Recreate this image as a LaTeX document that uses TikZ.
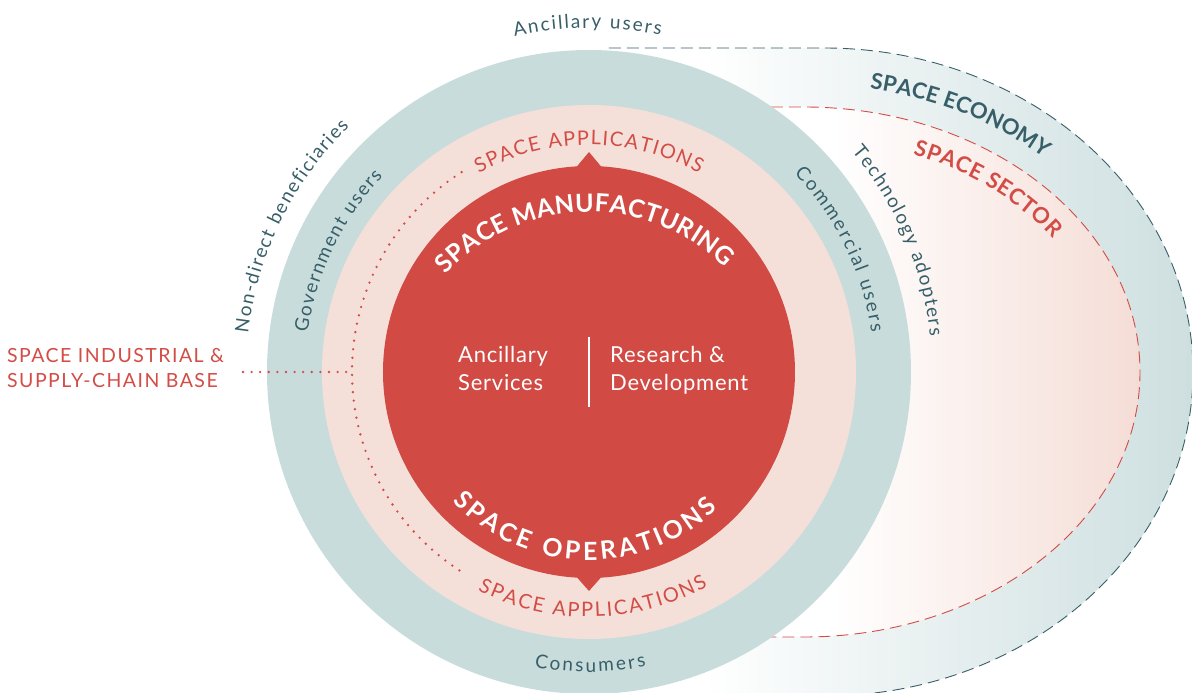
\documentclass[tikz,border=0pt]{standalone}
\usepackage{fontspec}
\setmainfont{Lato}
\usetikzlibrary{decorations.text}
\definecolor{tealring}{RGB}{201,220,220}
\definecolor{pinkring}{RGB}{245,224,217}
\definecolor{redc}{RGB}{209,74,68}
\definecolor{tealtxt}{RGB}{55,95,105}
\definecolor{redtxt}{RGB}{211,76,70}
\definecolor{econR}{RGB}{206,223,224}
\definecolor{sectR}{RGB}{245,221,214}
\pgfdeclarehorizontalshading{econshade}{100bp}{color(0bp)=(white); color(33bp)=(white); color(75bp)=(econR); color(100bp)=(econR)}
\pgfdeclarehorizontalshading{sectshade}{100bp}{color(0bp)=(white); color(46bp)=(white); color(75bp)=(sectR); color(100bp)=(sectR)}
\newcommand\fntTeal{\fontsize{19}{22}\selectfont}
\newcommand\fntApp{\fontsize{20}{24}\selectfont}
\newcommand\fntCore{\fontsize{25}{30}\selectfont\bfseries}
\newcommand\fntEco{\fontsize{22}{26}\selectfont\bfseries}
\begin{document}
\begin{tikzpicture}[x=1pt,y=1pt,
  curved/.style={decorate, decoration={text along path, text align={fit to path}, text color=#1}},
  dashline/.style={draw=#1, line width=0.9pt, dash pattern=on 12pt off 6pt},
  dotline/.style={draw=redtxt, line width=2.6pt, line cap=round, dash pattern=on 0pt off 8.6pt},
  centertext/.style={text=white, font=\fontsize{22}{28}\selectfont\addfontfeatures{LetterSpace=3.5}, align=left, inner sep=0pt, anchor=north west},
  sidelabel/.style={text=redtxt, font=\fontsize{19.5}{25}\selectfont\addfontfeatures{LetterSpace=7.5}, align=left, inner sep=0pt, anchor=north west}]
\useasboundingbox (-589,-321) rectangle (603,372);

% space economy and space sector areas
\shade[shading=econshade] (20,324) -- (235,324) arc[start angle=90,end angle=-90,x radius=369pt,y radius=324pt] -- (20,-324) -- cycle;
\shade[shading=sectshade] (20,265) -- (215,265) arc[start angle=90,end angle=-90,x radius=336pt,y radius=265pt] -- (20,-265) -- cycle;
\path[dashline=tealtxt] (20,324) -- (235,324) arc[start angle=90,end angle=-90,x radius=369pt,y radius=324pt] -- (20,-324);
\path[dashline=redtxt] (20,265) -- (215,265) arc[start angle=90,end angle=-90,x radius=336pt,y radius=265pt] -- (20,-265);

% rings
\fill[tealring] (0,0) circle[radius=322pt];
\fill[pinkring] (0,0) circle[radius=267pt];
\fill[redc] (0,0) circle[radius=206pt];
\fill[redc] (-15,202) -- (0,220) -- (15,202) -- cycle;
\fill[redc] (-15,-202) -- (0,-219) -- (15,-202) -- cycle;

% dotted link
\coordinate (dotL) at (-346,0);
\coordinate (dotM) at (180:237pt);
\coordinate (dotT) at (122.5:237pt);
\draw[dotline] (dotL) -- (dotM);
\draw[dotline] (dotT) arc[start angle=122.5,end angle=237.5,radius=237pt];

% centre divider
\coordinate (divT) at (0,35);
\coordinate (divB) at (0,-35);
\draw[white, line width=1.4pt] (divT) -- (divB);

% straight texts
\node[centertext] (anc) at (-131,26) {Ancillary\\Services};
\node[centertext] (rnd) at (21,26) {Research \&\\Development};
\node[sidelabel] (ind) at (-582,24) {SPACE INDUSTRIAL \&\\SUPPLY-CHAIN BASE};

% curved labels, outer
\path[curved=tealtxt, decoration={text={|\fntTeal|Ancillary users}}] (102.5:344pt) arc[start angle=102.5,end angle=78,radius=344pt];
\path[curved=tealtxt, decoration={text={|\fntTeal|Non-direct beneficiaries}}] (173.5:343pt) arc[start angle=173.5,end angle=134.3,radius=343pt];
\path[curved=tealtxt, decoration={text={|\fntTeal|Technology adopters}}] (40:343pt) arc[start angle=40,end angle=6,radius=343pt];
\path[curved=tealtxt, decoration={text={|\fntTeal|Government users}}] (172:284pt) arc[start angle=172,end angle=136.5,radius=284pt];
\path[curved=tealtxt, decoration={text={|\fntTeal|Commercial users}}] (44:285pt) arc[start angle=44,end angle=8,radius=285pt];
\path[curved=tealtxt, decoration={text={|\fntTeal|Consumers}}] (259.5:300pt) arc[start angle=259.5,end angle=281,radius=300pt];

% space applications
\path[curved=redtxt, decoration={text={|\fntApp|SPACE APPLICATIONS}}] (119:227pt) arc[start angle=119,end angle=61,radius=227pt];
\path[curved=redtxt, decoration={text={|\fntApp|SPACE APPLICATIONS}}] (243:245pt) arc[start angle=243,end angle=299,radius=245pt];

% core
\path[curved=white, decoration={text={|\fntCore|SPACE MANUFACTURING}}] ([shift={(0,-34)}]137.5:194pt) arc[start angle=137.5,end angle=45.5,radius=194pt];
\path[curved=white, decoration={text={|\fntCore|SPACE OPERATIONS}}] (223.3:188pt) arc[start angle=223.3,end angle=313.3,radius=188pt];

% economy / sector
\path[curved=tealtxt, decoration={text={|\fntEco|SPACE ECONOMY}}] ([shift={(225,0)}]80.7:345pt and 287pt) arc[start angle=80.7,end angle=48.2,x radius=345pt,y radius=287pt];
\path[curved=redtxt, decoration={text={|\fntEco|SPACE SECTOR}}] ([shift={(215,0)}]69:304pt and 233pt) arc[start angle=69,end angle=35,x radius=304pt,y radius=233pt];
\end{tikzpicture}
\end{document}
